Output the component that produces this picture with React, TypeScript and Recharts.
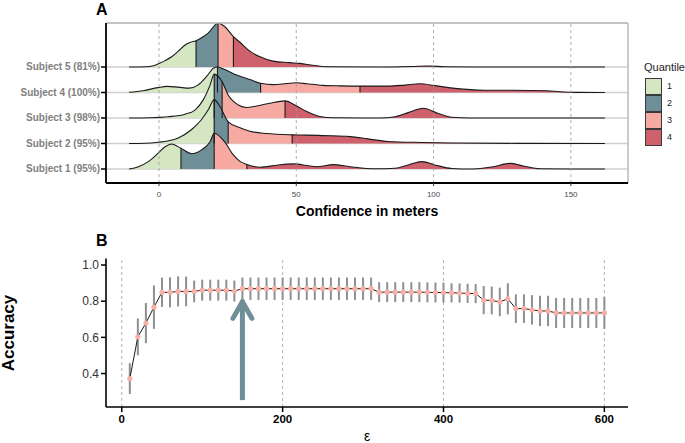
import React from 'react';
import {
  ComposedChart,
  Area,
  Line,
  XAxis,
  YAxis,
  CartesianGrid,
  ReferenceLine,
  ErrorBar,
} from 'recharts';

const FONT = '"Liberation Sans", Arial, Helvetica, sans-serif';

// ---------- Panel A data ----------
const subjectLabels = ['Subject 1 (95%)', 'Subject 2 (95%)', 'Subject 3 (98%)', 'Subject 4 (100%)', 'Subject 5 (81%)'];
const subjectRows = [1, 2, 3, 4, 5];
const quantileLabels = ['1', '2', '3', '4'];
const quantileColors = ['#D5E6C3', '#6E8E98', '#F6AAA2', '#CF616C'];
const confTicks = [0, 50, 100, 150];

// [confidence in meters, density height in row units]
const subject1Density: [number, number][] = [
  [-10.9, 0], [-7.5, 0.09], [-3.9, 0.29], [-0.3, 0.62], [2.2, 0.87], [4.6, 0.98], [8.0, 0.81],
  [11.9, 0.6], [15.5, 0.75], [18.6, 1.07], [20.1, 1.4], [24.0, 1.05], [27.0, 0.56], [29.5, 0.3],
  [32.0, 0.18], [36.8, 0.07], [42.9, 0.15], [48.8, 0.2], [57.4, 0.09], [63.5, 0.17], [69.6, 0.09],
  [78.7, 0.01], [86.0, 0.03], [90.8, 0.16], [95.7, 0.29], [100.5, 0.16], [106.6, 0.02], [113.3, 0],
  [121.7, 0.09], [127.8, 0.22], [132.7, 0.12], [138.7, 0.01], [150, 0], [162.4, 0],
];
const subject2Density: [number, number][] = [
  [-10.9, 0], [-5.0, 0.01], [-0.3, 0.05], [3.5, 0.11], [7.0, 0.22], [11.9, 0.55], [15.5, 0.94],
  [18.0, 1.33], [20.1, 1.72], [22.2, 1.45], [25.2, 0.85], [29.5, 0.62], [33.1, 0.48], [39.2, 0.39],
  [48.5, 0.34], [53.8, 0.33], [59.7, 0.31], [69.6, 0.27], [76.1, 0.18], [83.4, 0.08], [95.8, 0.04],
  [107.8, 0.02], [130, 0.005], [162.4, 0],
];
const subject3Density: [number, number][] = [
  [-10.9, 0], [-3.3, 0.01], [3.4, 0.05], [9.5, 0.15], [13.1, 0.31], [16.1, 0.71], [18.6, 1.29],
  [20.1, 1.72], [23.0, 1.42], [25.2, 0.9], [28.9, 0.51], [31.9, 0.41], [35.6, 0.47], [40.4, 0.58],
  [45.9, 0.67], [50.1, 0.47], [53.8, 0.25], [58.6, 0.06], [63.4, 0.01], [80.5, 0], [86.0, 0.05],
  [90.7, 0.21], [96.2, 0.38], [101.7, 0.18], [106.6, 0.03], [113, 0], [162.4, 0],
];
const subject4Density: [number, number][] = [
  [-10.9, 0.01], [-5.8, 0.07], [-0.4, 0.19], [3.0, 0.24], [7.0, 0.21], [11.0, 0.17], [14.3, 0.3],
  [17.4, 0.64], [19.8, 0.95], [21.3, 1.0], [24.0, 0.9], [27.7, 0.71], [29.5, 0.64], [33.1, 0.51],
  [37.0, 0.36], [41.5, 0.31], [46.5, 0.35], [50.1, 0.38], [53.8, 0.34], [59.7, 0.28], [65.9, 0.26],
  [73.2, 0.25], [83.4, 0.25], [89.6, 0.29], [95.0, 0.34], [100.5, 0.27], [107.8, 0.16], [118.7, 0.09],
  [128.9, 0.09], [141.3, 0.07], [146, 0.03], [152, 0.005], [162.4, 0],
];
const subject5Density: [number, number][] = [
  [-10.9, 0], [-5.0, 0.01], [-2.0, 0.05], [0, 0.14], [2.2, 0.25], [4.6, 0.4], [7.0, 0.62], [9.5, 0.86],
  [11.5, 0.97], [13.5, 1.03], [15.5, 1.15], [17.8, 1.32], [21.5, 1.72], [24.0, 1.58], [27.1, 1.19],
  [29.5, 0.97], [33.1, 0.62], [36.8, 0.4], [41.5, 0.23], [47.7, 0.17], [51.3, 0.14], [56.0, 0.07],
  [61.0, 0.01], [80, 0], [92, 0.02], [98, 0.04], [104, 0.01], [115, 0], [162.4, 0],
];
const ridgeDensities = [subject1Density, subject2Density, subject3Density, subject4Density, subject5Density];
// quantile boundaries (25%, 50%, 75%) per subject
const subjectQuantiles = [
  [8.0, 20.1, 32.0],
  [20.1, 25.2, 48.5],
  [20.1, 23.0, 45.9],
  [21.3, 37.0, 73.2],
  [13.5, 21.5, 27.1],
];

// ---------- Panel B data ----------
const epsilons = [
  10, 20, 30, 40, 50, 60, 70, 80, 90, 100, 110, 120, 130, 140, 150, 160, 170, 180, 190, 200,
  210, 220, 230, 240, 250, 260, 270, 280, 290, 300, 310, 320, 330, 340, 350, 360, 370, 380, 390, 400,
  410, 420, 430, 440, 450, 460, 470, 480, 490, 500, 510, 520, 530, 540, 550, 560, 570, 580, 590, 600,
];
const accuracy = [
  0.372, 0.603, 0.679, 0.767, 0.849, 0.849, 0.854, 0.854, 0.854, 0.861, 0.861, 0.861, 0.861, 0.856, 0.869,
  0.869, 0.869, 0.869, 0.869, 0.869, 0.869, 0.869, 0.869, 0.869, 0.869, 0.869, 0.869, 0.869, 0.869, 0.869,
  0.869, 0.85, 0.85, 0.85, 0.85, 0.85, 0.85, 0.849, 0.848, 0.848, 0.846, 0.845, 0.843, 0.842, 0.806,
  0.804, 0.796, 0.813, 0.759, 0.759, 0.752, 0.746, 0.746, 0.735, 0.735, 0.735, 0.735, 0.735, 0.735, 0.735,
];
const accuracyErr = [
  0.085, 0.102, 0.111, 0.12, 0.081, 0.083, 0.083, 0.082, 0.06, 0.058, 0.058, 0.058, 0.058, 0.058, 0.062,
  0.062, 0.062, 0.062, 0.062, 0.062, 0.062, 0.062, 0.062, 0.062, 0.062, 0.062, 0.062, 0.062, 0.062, 0.062,
  0.062, 0.055, 0.055, 0.055, 0.055, 0.055, 0.055, 0.055, 0.055, 0.055, 0.053, 0.053, 0.053, 0.053, 0.078,
  0.077, 0.079, 0.086, 0.079, 0.079, 0.081, 0.084, 0.084, 0.083, 0.083, 0.083, 0.083, 0.083, 0.083, 0.088,
];
const epsTicks = [0, 200, 400, 600];
const accTicks = [0.4, 0.6, 0.8, 1.0];
const arrowX = 150;
const arrowBase = 0.253;
const arrowTip = 0.797;
const arrowArmDx = 11.8;
const arrowArmY = 0.705;

const DOMAIN_A_X: [number, number] = [-19.3, 170.8];
const DOMAIN_A_Y: [number, number] = [0.451, 6.725];
const DOMAIN_B_X: [number, number] = [-19.6, 629.4];
const DOMAIN_B_Y: [number, number] = [0.215, 1.036];

function buildRidgeRows() {
  const map = new Map<number, any>();
  ridgeDensities.forEach((pts, k) => {
    pts.forEach(([x, d]) => {
      const row = map.get(x) ?? { x };
      row[`s${k}`] = subjectRows[k] + d;
      map.set(x, row);
    });
  });
  return Array.from(map.values()).sort((a, b) => a.x - b.x);
}

function gradientStops(k: number) {
  const pts = ridgeDensities[k];
  const x0 = pts[0][0];
  const x1 = pts[pts.length - 1][0];
  const qs = subjectQuantiles[k].map((q) => (q - x0) / (x1 - x0));
  const stops: React.ReactNode[] = [];
  const bounds = [0, ...qs, 1];
  for (let i = 0; i < 4; i++) {
    stops.push(<stop key={`a${i}`} offset={bounds[i]} stopColor={quantileColors[i]} />);
    stops.push(<stop key={`b${i}`} offset={bounds[i + 1]} stopColor={quantileColors[i]} />);
  }
  return stops;
}

const SubjectTick = (props: any) => {
  const { x, y, payload } = props;
  return (
    <text x={x} y={y} dy="0.35em" textAnchor="end" fill="#808080" fontSize={10} fontWeight={700} fontFamily={FONT}>
      {subjectLabels[payload.value - 1]}
    </text>
  );
};

export default function App() {
  const rowsA = buildRidgeRows();
  const rowsB = epsilons.map((e, i) => ({ eps: e, acc: accuracy[i], err: accuracyErr[i] }));
  const order = [4, 3, 2, 1, 0];

  return (
    <div style={{ position: 'absolute', left: 0, top: 0, width: 685, height: 443, background: '#fff', fontFamily: FONT }}>
      {/* Panel A */}
      <div style={{ position: 'absolute', left: 0, top: 0 }}>
        <ComposedChart width={685} height={210} data={rowsA} margin={{ top: 23, right: 57, bottom: 0, left: 0 }}>
          <defs>
            {order.map((k) => (
              <linearGradient key={k} id={`ridge${k}`} x1="0" y1="0" x2="1" y2="0">
                {gradientStops(k)}
              </linearGradient>
            ))}
          </defs>
          <CartesianGrid vertical={false} stroke="#cfcfcf" strokeWidth={1.3} />
          <XAxis
            type="number"
            dataKey="x"
            domain={DOMAIN_A_X}
            allowDataOverflow
            ticks={confTicks}
            interval={0}
            height={27}
            axisLine={{ stroke: '#000', strokeWidth: 1.8 }}
            tickLine={{ stroke: '#333', strokeWidth: 1 }}
            tickSize={3}
            tickMargin={5}
            tick={{ fill: '#4d4d4d', fontSize: 8, fontFamily: FONT }}
          />
          <YAxis
            type="number"
            domain={DOMAIN_A_Y}
            allowDataOverflow
            ticks={subjectRows}
            interval={0}
            width={106}
            axisLine={{ stroke: '#000', strokeWidth: 1.8 }}
            tickLine={{ stroke: '#000', strokeWidth: 1.5 }}
            tickSize={5}
            tickMargin={1}
            tick={<SubjectTick />}
          />
          {order.map((k) => (
            <Area
              key={`area${k}`}
              dataKey={`s${k}`}
              type="monotone"
              baseValue={subjectRows[k]}
              connectNulls
              stroke="#1a1a1a"
              strokeWidth={1.1}
              fill={`url(#ridge${k})`}
              fillOpacity={1}
              dot={false}
              activeDot={false}
              isAnimationActive={false}
            />
          ))}
          {order.map((k) =>
            subjectQuantiles[k].map((q, j) => {
              const p = ridgeDensities[k].find((pt) => pt[0] === q);
              const d = p ? p[1] : 0;
              return (
                <ReferenceLine
                  key={`q${k}-${j}`}
                  segment={[{ x: q, y: subjectRows[k] }, { x: q, y: subjectRows[k] + d }]}
                  stroke="#1a1a1a"
                  strokeWidth={1.1}
                />
              );
            })
          )}
          {confTicks.map((t) => (
            <ReferenceLine key={`v${t}`} x={t} stroke="#9a9a9a" strokeWidth={0.8} strokeDasharray="3 3" />
          ))}
          <ReferenceLine y={DOMAIN_A_Y[1]} stroke="#bdbdbd" strokeWidth={1.6} />
          <ReferenceLine x={DOMAIN_A_X[1]} stroke="#bdbdbd" strokeWidth={1.6} />
        </ComposedChart>
      </div>

      <div style={{ position: 'absolute', left: 96, top: 1, fontSize: 16, fontWeight: 700, lineHeight: '18px', color: '#000' }}>A</div>
      <div style={{ position: 'absolute', left: 217, top: 202, width: 300, textAlign: 'center', fontSize: 14, fontWeight: 700, lineHeight: '18px', color: '#000' }}>
        Confidence in meters
      </div>

      {/* Legend */}
      <div style={{ position: 'absolute', left: 644, top: 60, fontSize: 11, lineHeight: '14px', color: '#222', whiteSpace: 'nowrap' }}>Quantile</div>
      {quantileLabels.map((lab, i) => (
        <React.Fragment key={lab}>
          <div
            style={{
              position: 'absolute',
              left: 645,
              top: 78 + i * 17,
              width: 15,
              height: 15,
              background: quantileColors[i],
              border: '1px solid #3a3a3a',
            }}
          />
          <div style={{ position: 'absolute', left: 667, top: 79 + i * 17, fontSize: 9, lineHeight: '15px', color: '#222' }}>{lab}</div>
        </React.Fragment>
      ))}

      {/* Panel B */}
      <div style={{ position: 'absolute', left: 0, top: 220 }}>
        <ComposedChart width={685} height={223} data={rowsB} margin={{ top: 38.5, right: 57, bottom: 16, left: 0 }}>
          <XAxis
            type="number"
            dataKey="eps"
            domain={DOMAIN_B_X}
            allowDataOverflow
            ticks={epsTicks}
            interval={0}
            height={20}
            axisLine={{ stroke: '#000', strokeWidth: 1.6 }}
            tickLine={{ stroke: '#000', strokeWidth: 1.5 }}
            tickSize={5}
            tickMargin={3}
            tick={{ fill: '#000', fontSize: 11.5, fontWeight: 700, fontFamily: FONT }}
          />
          <YAxis
            type="number"
            domain={DOMAIN_B_Y}
            allowDataOverflow
            ticks={accTicks}
            interval={0}
            width={106}
            tickFormatter={(v: number) => v.toFixed(1)}
            axisLine={{ stroke: '#000', strokeWidth: 1.6 }}
            tickLine={{ stroke: '#000', strokeWidth: 1.5 }}
            tickSize={5}
            tickMargin={2}
            tick={{ fill: '#333', fontSize: 12, fontFamily: FONT }}
          />
          {epsTicks.map((t) => (
            <ReferenceLine key={`bv${t}`} x={t} stroke="#a0a0a0" strokeWidth={0.8} strokeDasharray="3 3" />
          ))}
          <Line
            dataKey="acc"
            type="linear"
            stroke="#1a1a1a"
            strokeWidth={1}
            dot={{ r: 2.6, fill: '#F8AFA6', stroke: 'none' }}
            activeDot={false}
            isAnimationActive={false}
          >
            <ErrorBar dataKey="err" width={0} stroke="#8c8f93" strokeWidth={2} direction="y" />
          </Line>
          <ReferenceLine segment={[{ x: arrowX, y: arrowBase }, { x: arrowX, y: arrowTip }]} stroke="#6E8E98" strokeWidth={5} />
          <ReferenceLine segment={[{ x: arrowX - arrowArmDx, y: arrowArmY }, { x: arrowX, y: arrowTip }]} stroke="#6E8E98" strokeWidth={5} strokeLinecap="round" />
          <ReferenceLine segment={[{ x: arrowX + arrowArmDx, y: arrowArmY }, { x: arrowX, y: arrowTip }]} stroke="#6E8E98" strokeWidth={5} strokeLinecap="round" />
        </ComposedChart>
      </div>

      <div style={{ position: 'absolute', left: 96, top: 232, fontSize: 16, fontWeight: 700, lineHeight: '18px', color: '#000' }}>B</div>
      <div
        style={{
          position: 'absolute',
          left: 9 - 50,
          top: 333 - 11,
          width: 100,
          height: 22,
          lineHeight: '22px',
          textAlign: 'center',
          fontSize: 17,
          fontWeight: 700,
          color: '#000',
          transform: 'rotate(-90deg)',
        }}
      >
        Accuracy
      </div>
      <div style={{ position: 'absolute', left: 317, top: 430, width: 100, height: 12, textAlign: 'center', fontSize: 14, lineHeight: '12px', color: '#000' }}>ε</div>
    </div>
  );
}
